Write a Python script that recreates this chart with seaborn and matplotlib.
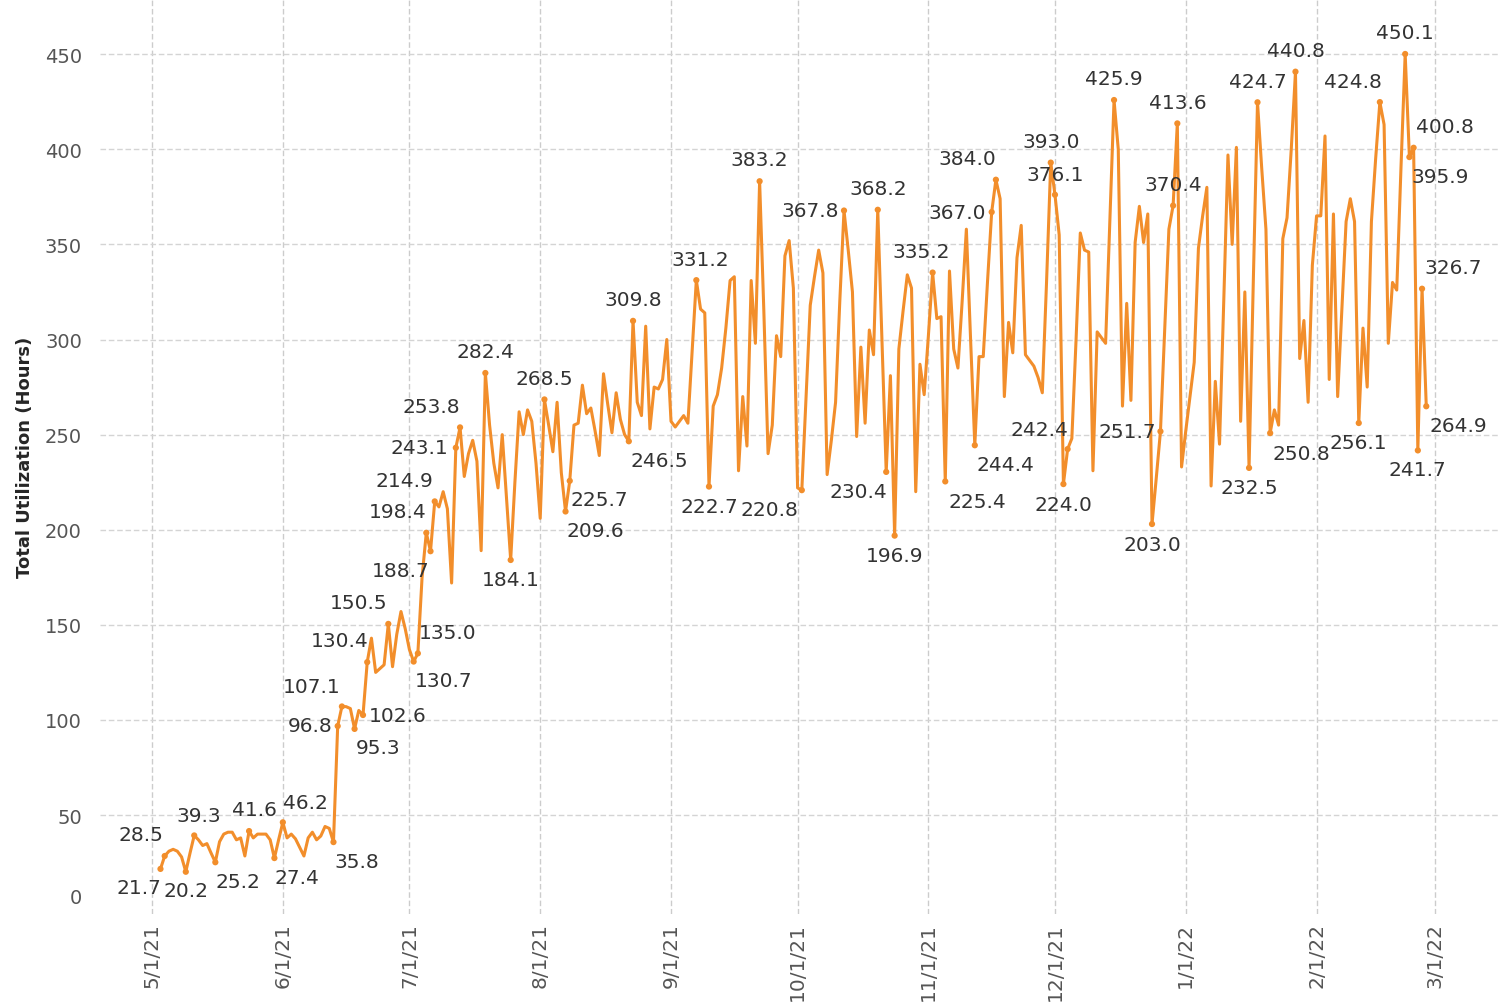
import pandas as pd
import matplotlib.pyplot as plt
import matplotlib.transforms as mtransforms
import seaborn as sns

# Daily total utilization (hours), 5/3/21 .. 2/27/22
may = [21.7, 28.5, 31, 32, 31, 28, 20.2, 30, 39.3, 37, 34, 35, 30, 25.2, 36, 40, 41, 41, 37, 38,
       28.5, 41.6, 38, 40, 40, 40, 37, 27.4, 37]
jun = [46.2, 38, 40, 37.5, 33, 28.5, 38, 41, 37, 39, 44, 43, 35.8, 96.8, 107.1, 107, 106, 95.3, 105, 102.6,
       130.4, 143, 125, 127, 129, 150.5, 128, 145, 157, 148]
jul = [137, 130.7, 135.0, 175, 198.4, 188.7, 214.9, 212, 220, 211, 172, 243.1, 253.8, 228, 240, 247, 236,
       189, 282.4, 255, 235, 222, 250, 217, 184.1, 225, 262, 250, 263, 257, 235]
aug = [206, 268.5, 255, 241, 267, 230, 209.6, 225.7, 255, 256, 276, 261, 264, 252, 239, 282, 266, 251,
       272, 258, 250, 246.5, 309.8, 267, 260, 307, 253, 275, 274, 279, 300]
sep = [257, 254, 257, 260, 256, 294, 331.2, 316, 314, 222.7, 265, 271, 285, 306, 331, 333, 231, 270, 244,
       331, 298, 383.2, 315, 240, 255, 302, 291, 344, 352, 327]
oct_ = [222, 220.8, 270, 318, 333, 347, 335, 229, 247, 267, 320, 367.8, 347, 325, 249, 296, 256, 305, 292,
        368.2, 300, 230.4, 281, 196.9, 295, 315, 334, 327, 220, 287, 271]
nov = [302, 335.2, 311, 312, 225.4, 336, 295, 285, 320, 358, 300, 244.4, 291, 291, 330, 367.0, 384.0, 374,
       270, 309, 293, 343, 360, 292, 289, 286, 280, 272, 330, 393.0]
dec = [376.1, 355, 224.0, 242.4, 248, 300, 356, 347, 346, 231, 304, 301, 298, 362, 425.9, 400, 265, 319,
       268, 351, 370, 351, 366, 203.0, 227, 251.7, 305, 358, 370.4, 413.6, 233]
jan = [252, 270, 288, 348, 365, 380, 223, 278, 245, 320, 397, 350, 401, 257, 325, 232.5, 330, 424.7, 390,
       358, 250.8, 263, 255, 353, 364, 400, 440.8, 290, 310, 267, 339]
feb = [365, 365, 407, 279, 366, 270, 316, 362, 374, 362, 256.1, 306, 275, 362, 395, 424.8, 413, 298, 330,
       326, 390, 450.1, 395.9, 400.8, 241.7, 326.7, 264.9]

hours = may + jun + jul + aug + sep + oct_ + nov + dec + jan + feb
df = pd.DataFrame({"date": pd.date_range("2021-05-03", periods=len(hours), freq="D"),
                   "hours": hours})

# labelled marks and where their text sits (pixels from the mark, +y is up)
label_dates = ["2021-05-04", "2021-05-03", "2021-05-09", "2021-05-11", "2021-05-16", "2021-05-24",
               "2021-05-30", "2021-06-01", "2021-06-13", "2021-06-14", "2021-06-15", "2021-06-18",
               "2021-06-20", "2021-06-21", "2021-06-26", "2021-07-03", "2021-07-02", "2021-07-06",
               "2021-07-05", "2021-07-07", "2021-07-12", "2021-07-13", "2021-07-19", "2021-07-25",
               "2021-08-02", "2021-08-08", "2021-08-07", "2021-08-23", "2021-08-22", "2021-09-07",
               "2021-09-10", "2021-09-22", "2021-10-02", "2021-10-12", "2021-10-20", "2021-10-22",
               "2021-10-24", "2021-11-02", "2021-11-05", "2021-11-16", "2021-11-17", "2021-11-12",
               "2021-11-30", "2021-12-01", "2021-12-04", "2021-12-03", "2021-12-15", "2021-12-26",
               "2021-12-24", "2021-12-30", "2021-12-29", "2022-01-16", "2022-01-18", "2022-01-21",
               "2022-01-27", "2022-02-11", "2022-02-16", "2022-02-22", "2022-02-24", "2022-02-23",
               "2022-02-25", "2022-02-26", "2022-02-27"]
label_offsets = [(-24, 21), (-22, -19), (0, -19), (5, 20), (23, -19), (5, 22),
                 (23, -19), (23, 20), (23, -19), (-28, 1), (-30, 20), (23, -19),
                 (35, 0), (-28, 22), (-30, 21), (30, 21), (30, -19), (-30, -19),
                 (-29, 21), (-30, 21), (-36, 0), (-29, 21), (0, 21), (0, -20),
                 (0, 21), (30, -19), (30, -19), (0, 21), (30, -19), (4, 21),
                 (0, -20), (0, 22), (-32, -19), (-34, 0), (0, 21), (-28, -20),
                 (0, -20), (-11, 21), (32, -20), (-34, 0), (-29, 21), (31, -19),
                 (0, 21), (0, 20), (-28, 20), (0, -20), (0, 22), (-33, 0),
                 (0, -20), (0, 21), (0, 21), (0, -20), (0, 21), (31, -20),
                 (0, 21), (0, -19), (-27, 21), (0, 21), (31, 21), (31, -19),
                 (0, -19), (31, 21), (32, -19)]

orange = "#F28E2B"

sns.set_style("white")
plt.rcParams["font.family"] = ["DejaVu Sans"]

fig = plt.figure(figsize=(14.98, 10.03), dpi=100)
ax = fig.add_axes([100 / 1498, 88 / 1003, 1398 / 1498, 915 / 1003])

sns.lineplot(data=df, x="date", y="hours", color=orange, linewidth=2.2, ax=ax)

lab = df.set_index("date").loc[pd.to_datetime(label_dates)].rename_axis("date").reset_index()
sns.scatterplot(data=lab, x="date", y="hours", color=orange, s=20, edgecolor="none", ax=ax, zorder=3)
for (d, v), (dx, dy) in zip(lab[["date", "hours"]].values, label_offsets):
    ax.annotate(f"{v:.1f}", xy=(d, v), xytext=(dx, dy), textcoords="offset pixels",
                ha="center", va="center", fontsize=14.5, color="#333333")

ax.set_xlim(pd.Timestamp("2021-04-18 16:00"), pd.Timestamp("2022-03-16"))
ax.set_ylim(-2, 479)

months = pd.date_range("2021-05-01", "2022-03-01", freq="MS")
ax.set_xticks(months)
ax.set_xticklabels([f"{m.month}/{m.day}/{m.strftime('%y')}" for m in months],
                   rotation=90, fontsize=14.5, color="#555555")
ax.set_yticks(range(0, 451, 50))
ax.set_yticklabels([str(v) for v in range(0, 451, 50)], fontsize=14, color="#555555")
ax.tick_params(axis="both", length=0)
ax.tick_params(axis="y", pad=13)
ax.tick_params(axis="x", pad=6)

# Tableau nudges the bottom "0" label up inside the pane
zero_lbl = ax.get_yticklabels()[0]
zero_lbl.set_transform(zero_lbl.get_transform() + mtransforms.ScaledTranslation(0, 0.15, fig.dpi_scale_trans))

for m in months:
    ax.axvline(m, color="#cccccc", linestyle=(0, (4, 2)), linewidth=1, zorder=0)
for v in range(50, 451, 50):
    ax.axhline(v, color="#d4d4d4", linestyle=(0, (4, 2)), linewidth=1, zorder=0)

for s in ax.spines.values():
    s.set_visible(False)

ax.set_xlabel("")
ax.set_ylabel("Total Utilization (Hours)", fontsize=13, fontweight="bold",
              family=["Liberation Sans Narrow", "DejaVu Sans"], labelpad=8)

fig.savefig("out.png", dpi=100)
